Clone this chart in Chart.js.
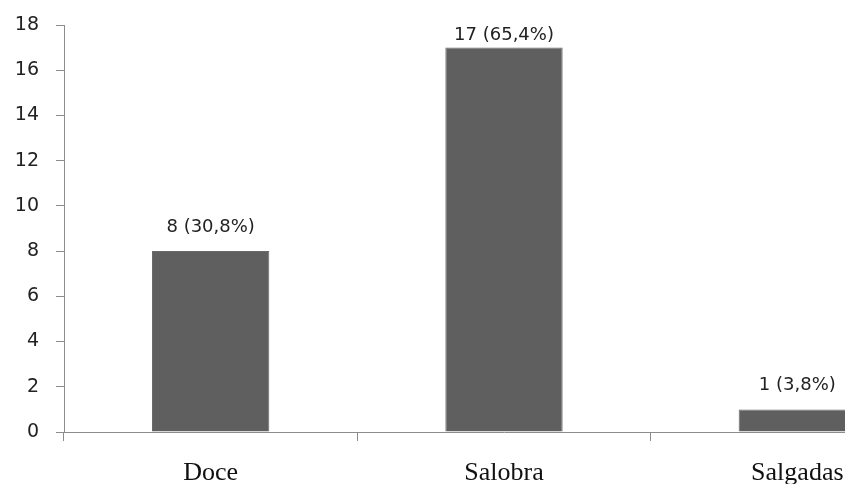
<!DOCTYPE html>
<html>
<head>
<meta charset="utf-8">
<script src="https://cdn.jsdelivr.net/npm/chart.js@4.4.1/dist/chart.umd.min.js"></script>
<style>
  html, body { margin: 0; padding: 0; background: #fff; overflow: hidden; }
  #wrap { width: 845px; height: 484px; overflow: hidden; }
  #box { width: 960px; height: 484px; }
</style>
</head>
<body>
<div id="wrap"><div id="box"><canvas id="aguaChart"></canvas></div></div>
<script>
const categorias = ['Doce', 'Salobra', 'Salgadas'];
const valores = [8, 17, 1];
const rotulos = ['8 (30,8%)', '17 (65,4%)', '1 (3,8%)'];

const corEixo = '#8c8c8c';

// desenha o texto em cima de cada barra (sem sair da área do gráfico)
const rotuloBarras = {
  id: 'rotuloBarras',
  afterDatasetsDraw(chart) {
    const c = chart.ctx;
    const meta = chart.getDatasetMeta(0);
    const topo = chart.chartArea.top + 15;
    c.save();
    c.font = '18px "DejaVu Sans"';
    c.fillStyle = '#222';
    c.textAlign = 'center';
    c.textBaseline = 'alphabetic';
    meta.data.forEach(function(bar, i) {
      c.fillText(rotulos[i], bar.x, Math.max(bar.y - 19, topo));
    });
    c.restore();
  }
};

const ctx = document.getElementById('aguaChart').getContext('2d');

const grafico = new Chart(ctx, {
  type: 'bar',
  data: {
    labels: categorias,
    datasets: [{
      data: valores,
      backgroundColor: '#5f5f5f',
      borderColor: '#6a6a6a',
      borderWidth: 1,
      barPercentage: 0.4,
      categoryPercentage: 1
    }]
  },
  options: {
    responsive: true,
    maintainAspectRatio: false,
    animation: false,
    layout: { padding: { top: 25, right: 16, left: 0, bottom: 0 } },
    plugins: {
      legend: { display: false },
      tooltip: { enabled: false }
    },
    scales: {
      x: {
        grid: {
          offset: true,
          drawOnChartArea: false,
          drawTicks: true,
          tickLength: 9,
          color: corEixo
        },
        border: { color: corEixo, width: 1 },
        ticks: {
          font: { family: 'Liberation Serif', size: 26 },
          color: '#111',
          padding: 17
        },
        afterFit(scale) { scale.height = 52; }
      },
      y: {
        min: 0,
        max: 18,
        grid: {
          drawOnChartArea: false,
          drawTicks: true,
          tickLength: 8,
          color: corEixo
        },
        border: { color: corEixo, width: 1 },
        ticks: {
          stepSize: 2,
          font: { family: 'DejaVu Sans', size: 19 },
          color: '#222',
          padding: 17
        },
        afterFit(scale) {
          scale.width = 64;
          // o padding dos rótulos não deve empurrar o topo
          scale.paddingTop = 0;
          scale.paddingBottom = 0;
        }
      }
    }
  },
  plugins: [rotuloBarras]
});
</script>
</body>
</html>
